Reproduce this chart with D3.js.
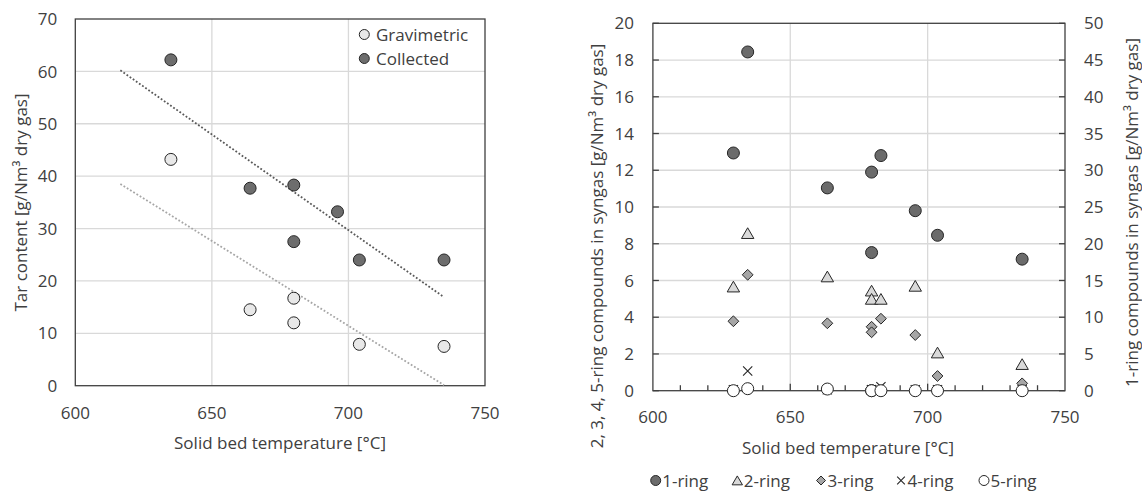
<!DOCTYPE html>
<html>
<head>
<meta charset="utf-8">
<script src="https://cdn.jsdelivr.net/npm/d3@7"></script>
<style>
  body { margin: 0; background: #fff; }
  svg text { font-family: "Open Sans", sans-serif; fill: #404040; }
</style>
</head>
<body>
<div id="vis"></div>
<script>
// left chart: tar content vs bed temperature
const gravTemp = [635, 664, 680, 680, 704, 735];
const gravTar = [43.2, 14.5, 16.7, 12.0, 7.9, 7.5];
const collTemp = [635, 664, 680, 696, 680, 704, 735];
const collTar = [62.2, 37.7, 38.3, 33.2, 27.5, 24.0, 24.0];
const trendTemp = [616.5, 735];
const gravTrend = [38.5, 0.1];
const collTrend = [60.2, 16.9];
const leftYTicks = [0, 10, 20, 30, 40, 50, 60, 70];
const tempTicks = [600, 650, 700, 750];

// right chart: ring compounds
const ringTemp = [629.3, 634.5, 663.5, 679.6, 679.6, 683.0, 695.5, 703.6, 734.4];
const ring1 = [32.35, 46.1, 27.6, 29.75, 18.8, 32.0, 24.5, 21.15, 17.9]; // right axis
const ring2 = [5.66, 8.57, 6.21, 5.44, 4.99, 4.99, 5.70, 2.07, 1.44];
const ring3 = [3.78, 6.31, 3.67, 3.48, 3.18, 3.92, 3.03, 0.80, 0.40];
const ring4 = [0.05, 1.07, 0.05, 0.05, 0.05, 0.22, 0.05, 0.05, 0.05];
const ring5 = [0.0, 0.11, 0.09, 0.0, 0.0, 0.0, 0.0, 0.0, 0.0];
const ringLeftTicks = [0, 2, 4, 6, 8, 10, 12, 14, 16, 18, 20];
const ringRightTicks = [0, 5, 10, 15, 20, 25, 30, 35, 40, 45, 50];
const minorTempTicks = d3.range(610, 750, 10);
const ringNames = ["1-ring", "2-ring", "3-ring", "4-ring", "5-ring"];

const size = {width: 1142, height: 492};
const fontSize = "17px";
const gridColor = "#d9d9d9";
const axisColor = "#404040";

const svg = d3.select("#vis")
  .append("svg")
  .attr("width", size.width)
  .attr("height", size.height);

function drawLeft(g){
  const x = d3.scaleLinear().domain([600, 750]).range([75.3, 485]);
  const y = d3.scaleLinear().domain([0, 70]).range([385.7, 19]);

  // grid
  g.selectAll(".hgrid").data(leftYTicks.slice(1, -1)).join("line")
    .attr("x1", x(600)).attr("x2", x(750))
    .attr("y1", d => y(d)).attr("y2", d => y(d))
    .attr("stroke", gridColor).attr("stroke-width", 1.3);
  g.selectAll(".vgrid").data(tempTicks.slice(1, -1)).join("line")
    .attr("x1", d => x(d)).attr("x2", d => x(d))
    .attr("y1", y(0)).attr("y2", y(70))
    .attr("stroke", gridColor).attr("stroke-width", 1.3);

  g.append("rect")
    .attr("x", x(600)).attr("y", y(70))
    .attr("width", x(750) - x(600)).attr("height", y(0) - y(70))
    .attr("fill", "none").attr("stroke", axisColor).attr("stroke-width", 1.3);

  // tick labels
  g.selectAll(".ylab").data(leftYTicks).join("text")
    .attr("x", x(600) - 18).attr("y", d => y(d)).attr("dy", "0.36em")
    .attr("text-anchor", "end").style("font-size", fontSize)
    .text(d => d);
  g.selectAll(".xlab").data(tempTicks).join("text")
    .attr("x", d => x(d)).attr("y", 419)
    .attr("text-anchor", "middle").style("font-size", fontSize)
    .text(d => d);

  // trend lines
  const line = d3.line().x(d => x(d[0])).y(d => y(d[1]));
  g.append("path").datum(d3.zip(trendTemp, gravTrend))
    .attr("d", line).attr("fill", "none")
    .attr("stroke", "#a6a6a6").attr("stroke-width", 1.8)
    .attr("stroke-dasharray", "1.8 2");
  g.append("path").datum(d3.zip(trendTemp, collTrend))
    .attr("d", line).attr("fill", "none")
    .attr("stroke", "#595959").attr("stroke-width", 1.8)
    .attr("stroke-dasharray", "1.8 2");

  // points
  g.selectAll(".grav").data(d3.zip(gravTemp, gravTar)).join("circle")
    .attr("cx", d => x(d[0])).attr("cy", d => y(d[1])).attr("r", 6)
    .attr("fill", "#e8e8e8").attr("stroke", "#262626").attr("stroke-width", 1);
  g.selectAll(".coll").data(d3.zip(collTemp, collTar)).join("circle")
    .attr("cx", d => x(d[0])).attr("cy", d => y(d[1])).attr("r", 6)
    .attr("fill", "#6d6d6d").attr("stroke", "#262626").attr("stroke-width", 1);

  // legend
  const leg = [["Gravimetric", "#e8e8e8"], ["Collected", "#6d6d6d"]];
  leg.forEach((l, i) => {
    g.append("circle").attr("cx", 364.3).attr("cy", 34.5 + i * 24).attr("r", 5)
      .attr("fill", l[1]).attr("stroke", "#262626").attr("stroke-width", 1);
    g.append("text").attr("x", 376).attr("y", 34.5 + i * 24).attr("dy", "0.36em")
      .style("font-size", fontSize).text(l[0]);
  });

  g.append("text")
    .attr("x", 280).attr("y", 448.5).attr("text-anchor", "middle")
    .style("font-size", fontSize).text("Solid bed temperature [°C]");
  g.append("text")
    .attr("transform", "translate(27, 202.5) rotate(-90)")
    .attr("text-anchor", "middle").style("font-size", fontSize)
    .text("Tar content [g/Nm³ dry gas]");
}

function marker(sel, type, s){
  if (type === 0 || type === 4){
    sel.append("circle").attr("r", s === undefined ? 6 : s)
      .attr("fill", type === 0 ? "#6b6b6b" : "#ffffff")
      .attr("stroke", "#262626").attr("stroke-width", 1);
  } else if (type === 1){
    const k = s === undefined ? 1 : s / 6;
    sel.append("path").attr("d", `M0,${-5.5*k} L${6.2*k},${5.2*k} L${-6.2*k},${5.2*k} Z`)
      .attr("fill", "#d9d9d9").attr("stroke", "#262626").attr("stroke-width", 1);
  } else if (type === 2){
    const k = s === undefined ? 1 : s / 6;
    sel.append("path").attr("d", `M0,${-5.4*k} L${5.4*k},0 L0,${5.4*k} L${-5.4*k},0 Z`)
      .attr("fill", "#a6a6a6").attr("stroke", "#262626").attr("stroke-width", 1);
  } else {
    const k = s === undefined ? 1 : s / 6;
    sel.append("path").attr("d", `M${-4.6*k},${-4.6*k} L${4.6*k},${4.6*k} M${4.6*k},${-4.6*k} L${-4.6*k},${4.6*k}`)
      .attr("fill", "none").attr("stroke", "#262626").attr("stroke-width", 1.1);
  }
}

function drawRight(g){
  const x = d3.scaleLinear().domain([600, 750]).range([652.9, 1065]);
  const y = d3.scaleLinear().domain([0, 20]).range([390.7, 23.3]);
  const y1 = d3.scaleLinear().domain([0, 50]).range([390.7, 23.3]);

  g.selectAll(".hgrid").data(ringLeftTicks.slice(1, -1)).join("line")
    .attr("x1", x(600)).attr("x2", x(750))
    .attr("y1", d => y(d)).attr("y2", d => y(d))
    .attr("stroke", gridColor).attr("stroke-width", 1.3);
  g.selectAll(".vgrid").data(tempTicks.slice(1, -1)).join("line")
    .attr("x1", d => x(d)).attr("x2", d => x(d))
    .attr("y1", y(0)).attr("y2", y(20))
    .attr("stroke", gridColor).attr("stroke-width", 1.3);

  g.append("rect")
    .attr("x", x(600)).attr("y", y(20))
    .attr("width", x(750) - x(600)).attr("height", y(0) - y(20))
    .attr("fill", "none").attr("stroke", axisColor).attr("stroke-width", 1.3);

  // inside ticks
  g.selectAll(".ltick").data(ringLeftTicks).join("line")
    .attr("x1", x(600)).attr("x2", x(600) + 6)
    .attr("y1", d => y(d)).attr("y2", d => y(d))
    .attr("stroke", axisColor).attr("stroke-width", 1.3);
  g.selectAll(".rtick").data(ringRightTicks).join("line")
    .attr("x1", x(750)).attr("x2", x(750) - 6)
    .attr("y1", d => y1(d)).attr("y2", d => y1(d))
    .attr("stroke", axisColor).attr("stroke-width", 1.3);
  g.selectAll(".xtick").data(minorTempTicks).join("line")
    .attr("x1", d => x(d)).attr("x2", d => x(d))
    .attr("y1", y(0)).attr("y2", d => y(0) - (d % 50 === 0 ? 7 : 5.5))
    .attr("stroke", axisColor).attr("stroke-width", 1.3);

  g.selectAll(".ylab").data(ringLeftTicks).join("text")
    .attr("x", x(600) - 19).attr("y", d => y(d)).attr("dy", "0.36em")
    .attr("text-anchor", "end").style("font-size", fontSize)
    .text(d => d);
  g.selectAll(".y1lab").data(ringRightTicks).join("text")
    .attr("x", x(750) + 19).attr("y", d => y1(d)).attr("dy", "0.36em")
    .attr("text-anchor", "start").style("font-size", fontSize)
    .text(d => d);
  g.selectAll(".xlab").data(tempTicks).join("text")
    .attr("x", d => x(d)).attr("y", 423)
    .attr("text-anchor", "middle").style("font-size", fontSize)
    .text(d => d);

  const series = [ring1, ring2, ring3, ring4, ring5];
  series.forEach((vals, s) => {
    const sc = s === 0 ? y1 : y;
    vals.forEach((v, i) => {
      const m = g.append("g").attr("transform", `translate(${x(ringTemp[i])},${sc(v)})`);
      marker(m, s);
    });
  });

  g.append("text")
    .attr("x", 848).attr("y", 454).attr("text-anchor", "middle")
    .style("font-size", fontSize).text("Solid bed temperature [°C]");
  g.append("text")
    .attr("transform", "translate(603, 246) rotate(-90)")
    .attr("text-anchor", "middle").style("font-size", fontSize)
    .text("2, 3, 4, 5-ring compounds in syngas [g/Nm³ dry gas]");
  g.append("text")
    .attr("transform", "translate(1138, 212.5) rotate(-90)")
    .attr("text-anchor", "middle").style("font-size", fontSize)
    .text("1-ring compounds in syngas [g/Nm³ dry gas]");

  // legend
  const legX = [655.7, 737.3, 821, 901, 984];
  const legY = 480.5;
  ringNames.forEach((n, i) => {
    const m = g.append("g").attr("transform", `translate(${legX[i]},${legY})`);
    marker(m, i, 5);
    g.append("text").attr("x", legX[i] + 6.5).attr("y", legY).attr("dy", "0.36em")
      .style("font-size", fontSize).text(n);
  });
}

drawLeft(svg.append("g"));
drawRight(svg.append("g"));
</script>
</body>
</html>
